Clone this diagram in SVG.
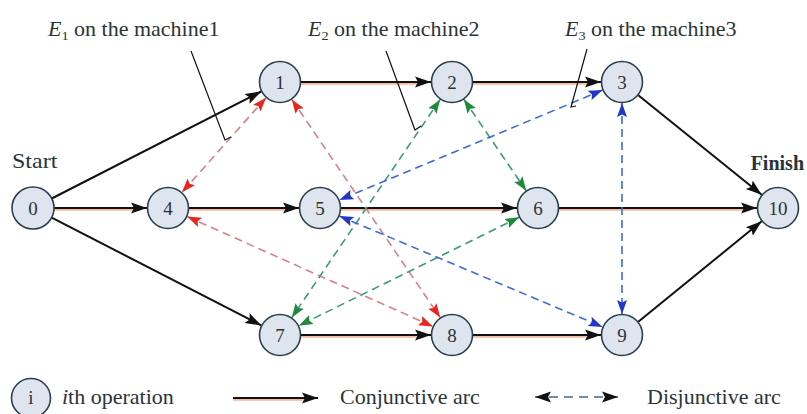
<svg xmlns="http://www.w3.org/2000/svg" width="807" height="414" viewBox="0 0 807 414">
<defs>
<style>
.node circle{fill:#dfe5ee;stroke:#2a3f4c;stroke-width:1.6}
.node text{font-family:"Liberation Serif","Times New Roman","DejaVu Serif",serif;font-size:19px;fill:#2a3438;text-anchor:middle}
.lbl{font-family:"Liberation Serif","Times New Roman","DejaVu Serif",serif;font-size:20px;fill:#2a3438}
.conj{stroke:#111;stroke-width:2;fill:none;marker-end:url(#ah)}
.sh{stroke:#f5b8a0;stroke-width:3.6;fill:none}
.dr{stroke:#d8808a;stroke-width:1.6;stroke-dasharray:8 5;fill:none;marker-start:url(#hr);marker-end:url(#hr)}
.dg{stroke:#3a9a7a;stroke-width:1.6;stroke-dasharray:8 5;fill:none;marker-start:url(#hg);marker-end:url(#hg)}
.db{stroke:#3c6cd8;stroke-width:1.6;stroke-dasharray:8 5;fill:none;marker-start:url(#hb);marker-end:url(#hb)}
.lead{stroke:#111;stroke-width:1.2;fill:none}
</style>
<marker id="ah" markerUnits="userSpaceOnUse" markerWidth="17" markerHeight="13" refX="16" refY="6.5" orient="auto-start-reverse"><path d="M0,1 L16,6.5 L0,12 L3,6.5 z" fill="#111"/></marker>
<marker id="hr" markerUnits="userSpaceOnUse" markerWidth="15" markerHeight="11" refX="14" refY="5.5" orient="auto-start-reverse"><path d="M0,0.5 L14,5.5 L0,10.5 L2.5,5.5 z" fill="#e8261e"/></marker>
<marker id="hg" markerUnits="userSpaceOnUse" markerWidth="15" markerHeight="11" refX="14" refY="5.5" orient="auto-start-reverse"><path d="M0,0.5 L14,5.5 L0,10.5 L2.5,5.5 z" fill="#1e8a3a"/></marker>
<marker id="hb" markerUnits="userSpaceOnUse" markerWidth="15" markerHeight="11" refX="14" refY="5.5" orient="auto-start-reverse"><path d="M0,0.5 L14,5.5 L0,10.5 L2.5,5.5 z" fill="#2236c8"/></marker>
<marker id="hk" markerUnits="userSpaceOnUse" markerWidth="17" markerHeight="13" refX="16" refY="6.5" orient="auto-start-reverse"><path d="M0,1 L16,6.5 L0,12 L3,6.5 z" fill="#111"/></marker>
</defs>
<rect width="807" height="414" fill="#fff"/>

<g id="connectors">
<g id="shadows">
<line class="sh" x1="54" y1="209" x2="140" y2="209"/>
<line class="sh" x1="301" y1="83" x2="424" y2="83"/>
<line class="sh" x1="473" y1="83" x2="594" y2="83"/>
<line class="sh" x1="189" y1="209" x2="292" y2="209"/>
<line class="sh" x1="341" y1="209" x2="510" y2="209"/>
<line class="sh" x1="559" y1="209" x2="750" y2="209"/>
<line class="sh" x1="301" y1="336" x2="424" y2="336"/>
<line class="sh" x1="473" y1="336" x2="594" y2="336"/>
</g>
<g id="conjunctive">
<line class="conj" x1="51.7" y1="198.5" x2="261.3" y2="91.5"/>
<line class="conj" x1="54" y1="208" x2="147" y2="208"/>
<line class="conj" x1="51.7" y1="217.6" x2="261.3" y2="325.4"/>
<line class="conj" x1="301" y1="82" x2="431" y2="82"/>
<line class="conj" x1="473" y1="82" x2="601" y2="82"/>
<line class="conj" x1="638.3" y1="95.2" x2="761.7" y2="194.8"/>
<line class="conj" x1="189" y1="208" x2="299" y2="208"/>
<line class="conj" x1="341" y1="208" x2="517" y2="208"/>
<line class="conj" x1="559" y1="208" x2="757" y2="208"/>
<line class="conj" x1="301" y1="335" x2="431" y2="335"/>
<line class="conj" x1="473" y1="335" x2="601" y2="335"/>
<line class="conj" x1="638.3" y1="321.7" x2="761.7" y2="221.3"/>
</g>
<g id="disjunctive">
<line class="dr" x1="266.1" y1="97.7" x2="182" y2="192.3"/>
<line class="dr" x1="291.8" y1="99.4" x2="440.2" y2="317.6"/>
<line class="dr" x1="187.2" y1="216.6" x2="432.8" y2="326.4"/>
<line class="dg" x1="440.2" y1="99.4" x2="291.8" y2="317.6"/>
<line class="dg" x1="463.8" y1="99.3" x2="526.2" y2="190.7"/>
<line class="dg" x1="519.2" y1="217.3" x2="298.8" y2="325.7"/>
<line class="db" x1="602.6" y1="90.1" x2="339.4" y2="199.9"/>
<line class="db" x1="622" y1="103" x2="622" y2="314"/>
<line class="db" x1="339.4" y1="216.1" x2="602.6" y2="326.9"/>
</g>
<g id="leaders">
<polyline class="lead" points="191,51 225,140 231,137"/>
<polyline class="lead" points="386,51 415,130 421,126"/>
<polyline class="lead" points="587,49 571,107 576,106"/>
</g>
</g>

<g id="n0" class="node"><circle cx="33" cy="208" r="21"/><text x="33" y="214.5">0</text></g>
<g id="n1" class="node"><circle cx="280" cy="82" r="20.5"/><text x="280" y="88.5">1</text></g>
<g id="n2" class="node"><circle cx="452" cy="82" r="20.5"/><text x="452" y="88.5">2</text></g>
<g id="n3" class="node"><circle cx="622" cy="82" r="20.5"/><text x="622" y="88.5">3</text></g>
<g id="n4" class="node"><circle cx="168" cy="208" r="20.5"/><text x="168" y="214.5">4</text></g>
<g id="n5" class="node"><circle cx="320" cy="208" r="20.5"/><text x="320" y="214.5">5</text></g>
<g id="n6" class="node"><circle cx="538" cy="208" r="20.5"/><text x="538" y="214.5">6</text></g>
<g id="n10" class="node"><circle cx="778" cy="208" r="20.5"/><text x="778" y="214.5">10</text></g>
<g id="n7" class="node"><circle cx="280" cy="335" r="20.5"/><text x="280" y="341.5">7</text></g>
<g id="n8" class="node"><circle cx="452" cy="335" r="20.5"/><text x="452" y="341.5">8</text></g>
<g id="n9" class="node"><circle cx="622" cy="335" r="20.5"/><text x="622" y="341.5">9</text></g>

<g id="labels">
<text class="lbl" transform="translate(48 36) scale(1.1 1)"><tspan font-style="italic">E</tspan><tspan font-size="13" dy="4">1</tspan><tspan dy="-4"> on the machine1</tspan></text>
<text class="lbl" transform="translate(308 36) scale(1.1 1)"><tspan font-style="italic">E</tspan><tspan font-size="13" dy="4">2</tspan><tspan dy="-4"> on the machine2</tspan></text>
<text class="lbl" transform="translate(565 36) scale(1.1 1)"><tspan font-style="italic">E</tspan><tspan font-size="13" dy="4">3</tspan><tspan dy="-4"> on the machine3</tspan></text>
<text class="lbl" font-size="15" transform="translate(12 168) scale(1.2 1)">Start</text>
<text class="lbl" font-size="14" font-weight="bold" x="804" y="170" text-anchor="end">Finish</text>
</g>

<g id="legend">
<g id="legend-node" class="node"><circle cx="31" cy="398" r="19.5"/><text x="31" y="404">i</text></g>
<text class="lbl" transform="translate(62 404) scale(1.1 1)"><tspan font-style="italic">i</tspan>th operation</text>
<line class="sh" x1="233" y1="399" x2="310" y2="399"/>
<line x1="233" y1="398" x2="318" y2="398" stroke="#111" stroke-width="2" marker-end="url(#hk)"/>
<text class="lbl" transform="translate(340 404) scale(1.1 1)">Conjunctive arc</text>
<line x1="535" y1="397" x2="618" y2="397" stroke="#6f8fa8" stroke-width="2" stroke-dasharray="9 6" stroke-dashoffset="-14" marker-start="url(#hk)" marker-end="url(#hk)"/>
<text class="lbl" transform="translate(647 404) scale(1.1 1)">Disjunctive arc</text>
</g>
</svg>
